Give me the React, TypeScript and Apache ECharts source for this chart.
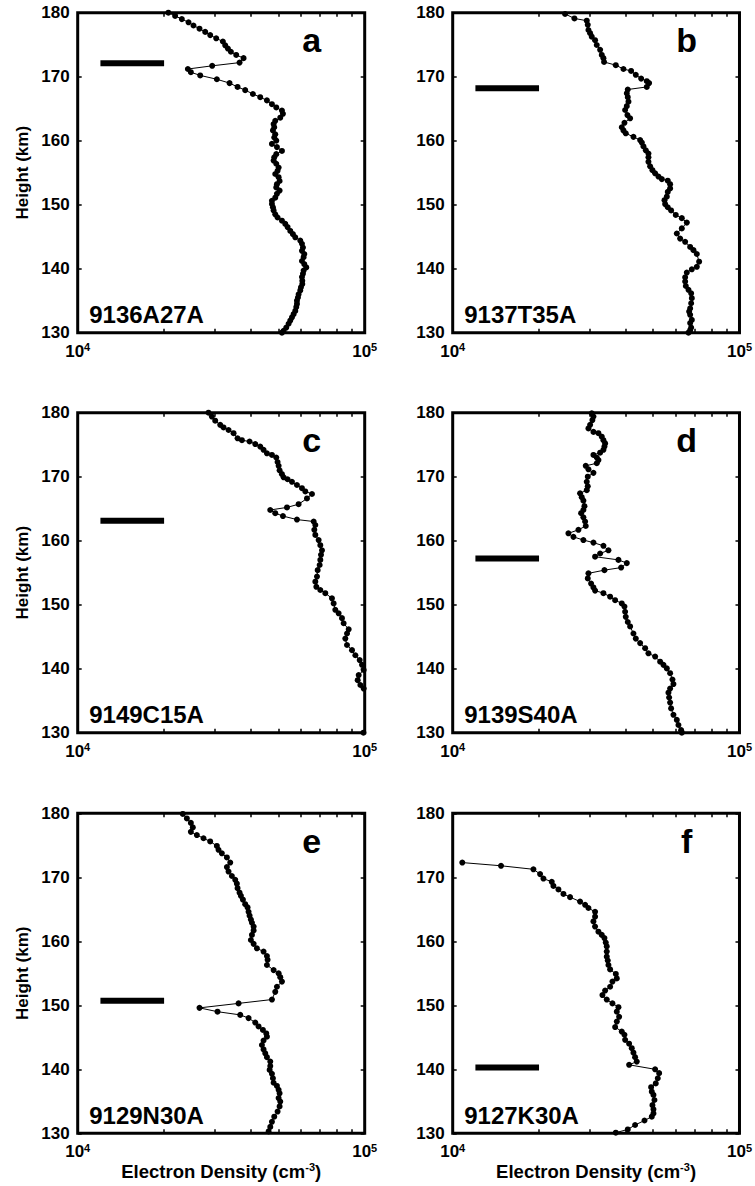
import React, { useEffect, useRef } from "react";
import * as echarts from "echarts";

const FONT = "'Liberation Sans', Arial, Helvetica, sans-serif";

const panelLetters = ["a", "b", "c", "d", "e", "f"];
const sampleIds = ["9136A27A", "9137T35A", "9149C15A", "9139S40A", "9129N30A", "9127K30A"];
const heightMin = 130;
const heightMax = 180;
const heightStep = 10;
const densityMin = 10000;
const densityMax = 100000;
const densityDecades = [10000, 100000];
const densityMinorTicks = [20000, 30000, 40000, 50000, 60000, 70000, 80000, 90000];
const markerStart = 12000;
const markerEnd = 20000;
const markerHeights = [172.1, 168.2, 163.1, 157.2, 150.7, 140.3];

const heightsA = [
  180.0, 179.5, 179.0, 178.5, 178.0, 177.5, 177.0, 176.5, 176.0, 175.5,
  174.9, 174.4, 173.9, 173.4, 172.9, 172.2, 171.7, 171.2, 170.7, 170.2,
  169.6, 169.0, 168.4, 167.9, 167.3, 166.8, 166.3, 165.7, 165.2, 164.7,
  164.2, 163.6, 163.1, 162.6, 162.1, 161.6, 161.0, 160.5, 160.0, 159.5,
  159.0, 158.4, 157.9, 157.4, 156.9, 156.4, 155.8, 155.3, 154.8, 154.3,
  153.7, 153.2, 152.7, 152.2, 151.7, 151.1, 150.6, 150.1, 149.6, 149.1,
  148.5, 148.0, 147.5, 147.0, 146.5, 145.9, 145.4, 144.9, 144.4, 143.9,
  143.3, 142.8, 142.3, 141.8, 141.2, 140.7, 140.2, 139.7, 139.2, 138.7,
  138.1, 137.6, 137.1, 136.6, 136.0, 135.5, 135.0, 134.5, 134.0, 133.4,
  132.9, 132.4, 131.9, 131.4, 130.8, 130.3, 130.0,
];
const densityA = [
  20700, 21850, 23060, 24330, 25320, 26570, 27810, 28950, 30380, 32050,
  32660, 33370, 34180, 35670, 37840, 36640, 29420, 24200, 24790, 26720,
  30540, 33810, 36060, 38340, 40780, 43250, 45640, 47510, 49190, 51480,
  51890, 50790, 48790, 48150, 48400, 47890, 48790, 48400, 49190, 47510,
  49450, 51480, 49190, 48400, 48150, 49190, 50120, 49710, 48790, 50120,
  50520, 49450, 49190, 50520, 49450, 48790, 47510, 47510, 47890, 48150,
  48790, 49710, 51480, 52880, 53870, 55040, 56230, 57290, 59640, 60450,
  60930, 60450, 61590, 61260, 60450, 61590, 62590, 61260, 60930, 60450,
  60610, 60610, 59960, 59640, 58850, 58530, 58070, 58070, 57750, 57290,
  56530, 55790, 55040, 54300, 53300, 52180, 51480,
];

const heightsB = [
  179.8, 179.1, 178.75, 178.1, 177.3, 176.8, 176.25, 175.7, 174.95, 174.2,
  173.4, 172.9, 172.3, 171.8, 171.2, 170.9, 170.3, 169.7, 169.3, 169.0,
  168.4, 168.0, 167.4, 166.8, 166.1, 165.4, 164.8, 164.0, 163.5, 162.8,
  162.1, 161.6, 161.15, 160.6, 160.1, 159.7, 159.1, 158.5, 158.0, 157.4,
  156.7, 156.0, 155.4, 154.9, 154.4, 154.0, 153.75, 153.2, 152.55, 152.0,
  151.25, 150.7, 150.1, 149.6, 149.1, 148.4, 147.9, 147.2, 146.3, 145.5,
  144.7, 144.2, 143.4, 142.9, 142.3, 141.1, 140.3, 139.9, 139.4, 138.65,
  138.0, 137.3, 136.7, 136.15, 135.4, 134.6, 133.8, 133.3, 132.8, 132.0,
  131.5, 130.8, 130.4, 130.0,
];
const densityB = [
  24650, 26570, 29340, 29580, 29740, 30140, 30540, 31370, 31790, 32660,
  33100, 33540, 33720, 37040, 39390, 41890, 43490, 45400, 47510, 48400,
  47510, 40780, 40460, 40780, 41010, 40460, 39920, 40670, 41560, 39710,
  38860, 39390, 40130, 42680, 45030, 45640, 46260, 47130, 48150, 48150,
  48150, 48790, 49710, 50790, 52180, 53600, 56230, 57290, 57290, 56230,
  55790, 54770, 55040, 56230, 57750, 59960, 62930, 65510, 62930, 60450,
  62100, 64640, 67290, 69110, 70980, 72320, 70980, 68200, 65510, 64640,
  64640, 64990, 66400, 67840, 68200, 67840, 67290, 66750, 67290, 68200,
  67290, 67840, 67290, 66400,
];

const heightsC = [
  180.0, 179.4, 178.75, 178.1, 177.7, 177.3, 176.8, 176.0, 175.7, 175.5,
  175.1, 174.7, 174.2, 173.65, 173.4, 173.0, 172.3, 171.7, 171.0, 170.4,
  169.9, 169.6, 169.2, 168.7, 168.2, 167.7, 167.3, 166.6, 165.7, 165.2,
  164.8, 164.3, 163.85, 163.3, 163.0, 162.45, 161.7, 160.9, 160.1, 159.3,
  158.5, 157.8, 157.0, 156.2, 155.4, 154.4, 153.6, 152.8, 152.3, 151.8,
  151.0, 150.2, 149.2, 148.65, 147.9, 147.1, 146.15, 145.5, 144.7, 143.7,
  142.9, 142.1, 141.35, 140.6, 139.8, 139.0, 138.2, 137.45, 136.9, 136.0,
  134.5, 133.0, 131.5, 130.5, 130.0,
];
const densityC = [
  28560, 29340, 30140, 31370, 32220, 33540, 34920, 36060, 37340, 39710,
  41560, 43250, 44420, 45640, 47510, 49190, 49710, 50120, 50520, 51480,
  52180, 53870, 55790, 58070, 60450, 62100, 65510, 62930, 58850, 53600,
  46880, 48790, 51890, 58070, 66400, 67290, 66750, 67290, 69110, 70040,
  70980, 70420, 70040, 69670, 68570, 68200, 67290, 67840, 70040, 72900,
  76900, 77940, 78990, 81130, 83330, 84450, 87940, 86780, 85610, 86780,
  90310, 92780, 96070, 97880, 99200, 95300, 94540, 96580, 99200, 104000,
  110000, 112000, 106000, 100500, 99000,
];

const heightsD = [
  179.9, 179.4, 178.85, 178.1, 177.55, 177.0, 176.8, 176.25, 175.7, 175.2,
  174.7, 174.2, 173.75, 173.4, 173.0, 172.6, 172.1, 171.7, 171.15, 170.6,
  170.0, 169.2, 168.5, 167.9, 167.4, 166.8, 166.25, 165.4, 164.8, 164.3,
  163.65, 163.0, 162.3, 161.7, 161.15, 160.6, 160.1, 159.7, 159.2, 158.5,
  158.0, 157.5, 157.0, 156.5, 155.8, 155.4, 154.9, 154.1, 153.3, 152.7,
  152.2, 151.8, 151.25, 150.7, 150.2, 149.7, 148.9, 148.1, 147.3, 146.6,
  145.5, 144.7, 144.0, 143.2, 142.4, 141.9, 141.1, 140.6, 140.05, 139.3,
  138.3, 137.6, 136.9, 136.25, 135.5, 134.7, 133.8, 132.8, 132.0, 131.2,
  130.4, 130.0,
];
const densityD = [
  30540, 30950, 30700, 30140, 29740, 30950, 32220, 33100, 33540, 34000,
  33810, 33540, 32660, 30950, 31790, 32220, 31790, 29100, 29740, 30950,
  29580, 29340, 29580, 29340, 27810, 28180, 28560, 28800, 28560, 28040,
  28560, 28950, 29100, 27440, 25320, 26360, 28560, 30950, 33540, 34920,
  32660, 31370, 37840, 40460, 38660, 33810, 29740, 29580, 30380, 30950,
  31370, 33540, 35390, 36840, 38860, 39710, 39920, 40130, 40780, 41560,
  42680, 43490, 45030, 46880, 48150, 50790, 52880, 54300, 55790, 57290,
  58380, 58850, 57290, 56530, 56830, 57290, 57750, 58850, 60450, 61260,
  62590, 62930,
];

const heightsE = [
  179.9, 179.2, 178.5, 177.8, 177.1, 176.6, 176.1, 175.6, 174.9, 174.3,
  173.75, 173.1, 172.3, 171.6, 170.9, 170.2, 169.6, 169.0, 168.3, 167.6,
  167.1, 166.5, 165.8, 165.3, 164.6, 164.0, 163.4, 162.9, 162.3, 161.7,
  161.0, 160.2, 159.6, 158.9, 158.4, 157.7, 157.1, 156.3, 155.5, 155.0,
  154.4, 153.7, 152.9, 152.1, 150.9, 150.3, 149.6, 149.0, 148.5, 148.0,
  147.3, 146.7, 146.15, 145.6, 145.1, 144.5, 143.8, 143.1, 142.5, 141.9,
  141.2, 140.5, 139.9, 139.3, 138.6, 137.9, 137.4, 136.8, 136.25, 135.5,
  134.95, 134.2, 133.4, 132.6, 131.8, 131.0, 130.3,
];
const densityE = [
  23240, 24010, 24790, 25180, 24790, 26010, 27440, 28950, 30540, 30950,
  31790, 33100, 34000, 33100, 33540, 34450, 35390, 35860, 36060, 36640,
  37040, 37640, 38340, 39070, 39390, 39710, 40130, 40460, 41010, 41010,
  40460, 40130, 41010, 42110, 44420, 45640, 45880, 45640, 48150, 50120,
  50790, 51480, 49450, 48790, 47510, 36350, 26570, 30700, 36840, 39390,
  41560, 42680, 44190, 45400, 45640, 44420, 43840, 44420, 45030, 45640,
  46880, 46880, 46640, 47510, 47890, 48150, 49450, 50120, 50520, 50120,
  50790, 50520, 49710, 48400, 47510, 46880, 46260,
];

const heightsF = [
  172.3, 171.8, 171.25, 170.5, 169.8, 169.3, 168.65, 168.1, 167.4, 166.9,
  166.2, 165.7, 165.2, 164.6, 163.85, 163.1, 162.3, 161.5, 161.0, 160.5,
  159.8, 159.2, 158.4, 157.6, 157.0, 156.3, 155.6, 154.9, 154.2, 153.7,
  152.9, 152.3, 151.6, 150.9, 150.3, 149.7, 149.0, 148.2, 147.45, 146.6,
  145.9, 145.4, 144.6, 144.0, 143.3, 142.6, 141.9, 141.2, 140.7, 140.0,
  139.4, 138.6, 137.8, 137.2, 136.5, 136.0, 135.2, 134.4, 133.75, 133.1,
  132.6, 132.0, 131.3, 130.6, 130.1,
];
const densityF = [
  10800, 14740, 19120, 20170, 20720, 22150, 22450, 23370, 24330, 25660,
  27810, 28950, 29740, 31370, 31370, 30950, 31370, 32220, 33100, 33810,
  34180, 34450, 34450, 34450, 34730, 34920, 35390, 37040, 37340, 36060,
  35390, 34000, 33280, 34450, 36060, 37840, 37340, 38040, 37340, 36840,
  38860, 39710, 39920, 41220, 42110, 42680, 43250, 43840, 41220, 50790,
  52460, 51890, 51060, 49190, 49450, 50120, 50520, 49710, 50120, 50120,
  49450, 46640, 43250, 40780, 37040,
];

const panelHeights = [heightsA, heightsB, heightsC, heightsD, heightsE, heightsF];
const panelDensities = [densityA, densityB, densityC, densityD, densityE, densityF];

const COL_LEFT = [77.7, 452.7];
const ROW_TOP = [12.7, 412.7, 813.3];
const PW = 287;
const PH = 320;

function buildOption() {
  const grid: any[] = [];
  const xAxis: any[] = [];
  const yAxis: any[] = [];
  const series: any[] = [];
  const graphic: any[] = [];

  const tickStyle = { color: "#000", width: 1.5 };
  const supRich = {
    b: { fontSize: 17, fontWeight: "bold", fontFamily: FONT, color: "#000", lineHeight: 19 },
    s: { fontSize: 11, fontWeight: "bold", fontFamily: FONT, color: "#000", verticalAlign: "top", lineHeight: 11 },
  };

  for (let i = 0; i < 6; i++) {
    const col = i % 2;
    const row = Math.floor(i / 2);
    const left = COL_LEFT[col];
    const top = ROW_TOP[row];
    const isBottom = row === 2;
    const isLeft = col === 0;

    grid.push({
      left,
      top,
      width: PW,
      height: PH,
      show: true,
      borderColor: "#000",
      borderWidth: 3,
      backgroundColor: "transparent",
    });

    xAxis.push({
      type: "log",
      logBase: 10,
      gridIndex: i,
      min: densityMin,
      max: densityMax,
      position: "bottom",
      axisLine: { show: false },
      axisTick: { show: true, inside: true, length: 4, lineStyle: tickStyle, customValues: densityMinorTicks },
      axisLabel: {
        show: true,
        customValues: densityDecades,
        margin: 9,
        fontSize: 17,
        fontWeight: "bold",
        fontFamily: FONT,
        color: "#000",
        showMinLabel: true,
        showMaxLabel: true,
        formatter: (v: number) => `{b|10}{s|${Math.round(Math.log10(v))}}`,
        rich: supRich,
      },
      splitLine: { show: false },
      minorTick: { show: false },
      name: isBottom ? "{n|Electron Density (cm}{s|-3}{n|)}" : "",
      nameLocation: "middle",
      nameGap: 28,
      nameTextStyle: {
        fontSize: 18.5,
        fontWeight: "bold",
        fontFamily: FONT,
        color: "#000",
        rich: {
          n: { fontSize: 18.5, fontWeight: "bold", fontFamily: FONT, color: "#000", lineHeight: 20 },
          s: { fontSize: 11, fontWeight: "bold", fontFamily: FONT, color: "#000", verticalAlign: "top", lineHeight: 11 },
        },
      },
    });
    xAxis.push({
      type: "log",
      logBase: 10,
      gridIndex: i,
      min: densityMin,
      max: densityMax,
      position: "top",
      axisLine: { show: false },
      axisTick: { show: true, inside: true, length: 4, lineStyle: tickStyle, customValues: densityMinorTicks },
      axisLabel: { show: false },
      splitLine: { show: false },
    });

    yAxis.push({
      type: "value",
      gridIndex: i,
      min: heightMin,
      max: heightMax,
      interval: heightStep,
      position: "left",
      axisLine: { show: false },
      axisTick: { show: true, inside: true, length: 4, lineStyle: tickStyle },
      axisLabel: { fontSize: 17, fontWeight: "bold", fontFamily: FONT, color: "#000", margin: 8 },
      splitLine: { show: false },
      name: isLeft ? "Height (km)" : "",
      nameLocation: "middle",
      nameGap: 47,
      nameRotate: 90,
      nameTextStyle: { fontSize: 17, fontWeight: "bold", fontFamily: FONT, color: "#000" },
    });
    yAxis.push({
      type: "value",
      gridIndex: i,
      min: heightMin,
      max: heightMax,
      interval: heightStep,
      position: "right",
      axisLine: { show: false },
      axisTick: { show: true, inside: true, length: 4, lineStyle: tickStyle },
      axisLabel: { show: false },
      splitLine: { show: false },
    });

    const hs = panelHeights[i];
    const ds = panelDensities[i];
    series.push({
      type: "line",
      xAxisIndex: 2 * i,
      yAxisIndex: 2 * i,
      data: ds.map((d, k) => [d, hs[k]]),
      symbol: "circle",
      symbolSize: 6,
      showSymbol: true,
      lineStyle: { color: "#000", width: 1 },
      itemStyle: { color: "#000" },
      clip: true,
      silent: true,
      z: 3,
    });
    series.push({
      type: "line",
      xAxisIndex: 2 * i,
      yAxisIndex: 2 * i,
      data: [
        [markerStart, markerHeights[i]],
        [markerEnd, markerHeights[i]],
      ],
      symbol: "none",
      lineStyle: { color: "#000", width: 6, cap: "butt" },
      silent: true,
      z: 3,
    });

    graphic.push({
      type: "text",
      x: left + 234,
      y: top + 27.5,
      silent: true,
      style: {
        text: panelLetters[i],
        fontSize: 34,
        fontWeight: "bold",
        fontFamily: FONT,
        fill: "#000",
        align: "center",
        verticalAlign: "middle",
      },
    });
    graphic.push({
      type: "text",
      x: left + 11.5,
      y: top + 301.7,
      silent: true,
      style: {
        text: sampleIds[i],
        fontSize: 24,
        fontWeight: "bold",
        fontFamily: FONT,
        fill: "#000",
        align: "left",
        verticalAlign: "middle",
      },
    });
  }

  return {
    animation: false,
    backgroundColor: "#fff",
    grid,
    xAxis,
    yAxis,
    series,
    graphic,
  };
}

export default function App() {
  const ref = useRef<HTMLDivElement>(null);
  useEffect(() => {
    if (!ref.current) return;
    const chart = echarts.init(ref.current, undefined, { renderer: "svg" });
    chart.setOption(buildOption() as any);
    return () => chart.dispose();
  }, []);
  return (
    <div
      ref={ref}
      style={{ position: "absolute", left: 0, top: 0, width: 755, height: 1186, background: "#fff" }}
    />
  );
}
